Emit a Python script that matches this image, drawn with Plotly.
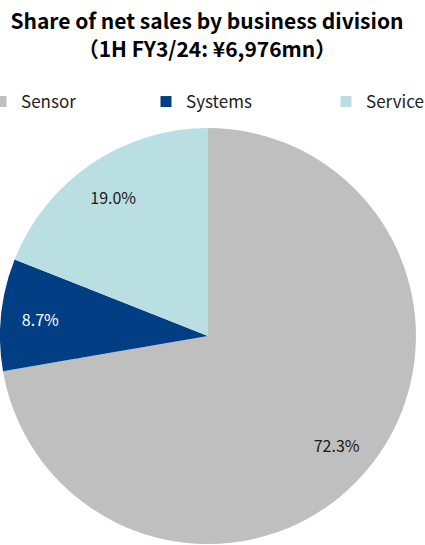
import plotly.graph_objects as go

labels = ["Sensor", "Systems", "Service"]
values = [72.3, 8.7, 19.0]
colors = ["#BFBFBF", "#023E84", "#B9DFE3"]
text_colors = ["#1a1a1a", "#ffffff", "#1a1a1a"]
title_text = "<b>Share of net sales by business division<br>（1H FY3/24: ¥6,976mn）</b>"

FONT = "Noto Sans CJK JP"
dom_x = [0, 0.9788]
dom_y = [0.0018, 0.765]
hole = 0.62

fig = go.Figure()
# outer ring carries the percentage labels (placed mid-ring, like the reference)
fig.add_trace(go.Pie(
    labels=labels, values=values, sort=False, direction="clockwise", rotation=0,
    hole=hole,
    marker=dict(colors=colors, line=dict(width=0)),
    texttemplate="%{value:.1f}%", textposition="inside",
    insidetextorientation="horizontal",
    textfont=dict(size=16, color=text_colors, family=FONT),
    domain=dict(x=dom_x, y=dom_y), showlegend=False, hoverinfo="skip",
))
# inner disc fills the hole
cx = (dom_x[0] + dom_x[1]) / 2
cy = (dom_y[0] + dom_y[1]) / 2
hw = (dom_x[1] - dom_x[0]) / 2 * (hole + 0.02)
hh = (dom_y[1] - dom_y[0]) / 2 * (hole + 0.02)
fig.add_trace(go.Pie(
    labels=labels, values=values, sort=False, direction="clockwise", rotation=0,
    marker=dict(colors=colors, line=dict(width=0)),
    textinfo="none", domain=dict(x=[cx - hw, cx + hw], y=[cy - hh, cy + hh]),
    showlegend=False, hoverinfo="skip",
))

# legend entries, one legend each so they can be spaced like the reference
legend_ids = ["legend", "legend2", "legend3"]
legend_x = [-19, 146, 326]
for lab, col, lid in zip(labels, colors, legend_ids):
    fig.add_trace(go.Scatter(
        x=[None], y=[None], mode="markers", name=lab, legend=lid,
        marker=dict(symbol="square", size=11, color=col),
        showlegend=True, hoverinfo="skip",
    ))

legend_common = dict(orientation="h", y=1 - 102 / 545, yanchor="middle",
                     xanchor="left", font=dict(size=17, color="#222222", family=FONT),
                     bgcolor="rgba(0,0,0,0)")
layout_legends = {}
for lid, px in zip(legend_ids, legend_x):
    layout_legends[lid] = dict(legend_common, x=px / 425)

fig.update_layout(
    width=425, height=545,
    margin=dict(l=0, r=0, t=0, b=0, autoexpand=False),
    paper_bgcolor="white", plot_bgcolor="white",
    font=dict(family=FONT, color="#111111"),
    xaxis=dict(visible=False), yaxis=dict(visible=False),
    title=dict(text=title_text, x=0.487, xref="container", xanchor="center",
               y=0.946, yref="container", yanchor="top",
               font=dict(size=21, color="#000000", family=FONT)),
    **layout_legends,
)

fig.write_html("out.html")
